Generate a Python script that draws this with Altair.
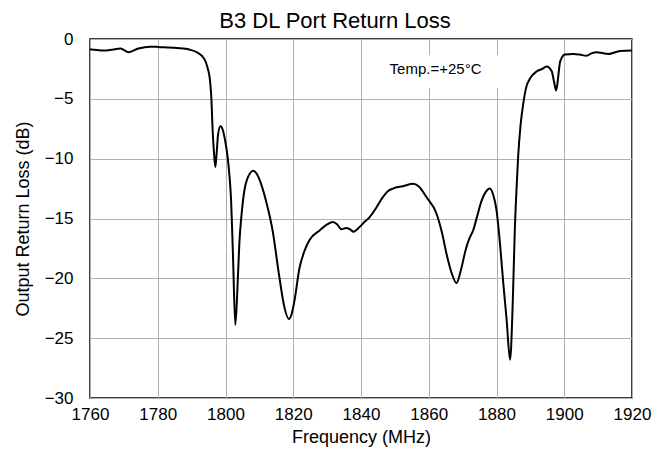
import altair as alt
import pandas as pd

freq = [1760, 1762, 1764, 1766.5, 1769, 1771.4, 1774.3, 1777.7, 1780, 1782.6, 1785, 1787.5,
        1789.5, 1791.5, 1793, 1793.9, 1794.7, 1795.4, 1795.8, 1796.2, 1796.6, 1797.0, 1797.4,
        1797.8, 1798.5, 1799.2, 1799.9, 1800.6, 1801.2, 1801.6, 1802.2, 1802.9, 1803.5, 1804.1,
        1804.8, 1805.6, 1806.7, 1808.2, 1809.3, 1810.5, 1812.2, 1813.9, 1815.9, 1817.3, 1818.7,
        1819.5, 1820.4, 1821.8, 1823.2, 1824.8, 1827.8, 1830, 1831.7, 1833, 1834.2, 1835.6,
        1836.7, 1837.8, 1839.6, 1841, 1842.5, 1844.5, 1846.5, 1848, 1849.4, 1852.4, 1855.4,
        1857, 1859.3, 1862.3, 1864, 1865.2, 1866.8, 1868.2, 1869.5, 1871, 1872.1, 1873.1,
        1874.3, 1875.6, 1876.8, 1878.0, 1879.0, 1880.0, 1881.0, 1882.0, 1883.0, 1884.0,
        1884.8, 1885.4, 1886.0, 1886.4, 1887.1, 1887.9, 1888.8, 1889.9, 1891.9, 1893.5,
        1894.8, 1896.3, 1897.0, 1897.6, 1898.2, 1898.7, 1899.4, 1900.2, 1902.7, 1904.5,
        1906.6, 1908, 1909.6, 1911.5, 1913.0, 1916.5, 1920]
loss = [-0.86, -0.92, -0.97, -0.9, -0.8, -1.1, -0.8, -0.64, -0.66, -0.7, -0.74, -0.8,
        -0.9, -1.1, -1.4, -1.75, -2.4, -3.4, -4.8, -7.6, -9.5, -10.7, -9.5,
        -8.0, -7.3, -7.6, -8.5, -9.8, -11.5, -13.2, -18, -23.9, -21, -17.0,
        -14.5, -12.6, -11.5, -11.0, -11.3, -12.1, -13.8, -16.0, -19.9, -22.3, -23.4,
        -23.0, -21.8, -19.2, -17.8, -16.8, -16.0, -15.5, -15.3, -15.5, -15.9, -15.8,
        -15.9, -16.1, -15.7, -15.3, -14.9, -14.1, -13.2, -12.7, -12.5, -12.3, -12.1,
        -12.3, -13.2, -14.6, -16.3, -17.9, -19.6, -20.4, -19.3, -17.5, -16.6, -16.0,
        -14.8, -13.5, -12.8, -12.5, -13.0, -14.3, -17, -20.4, -23.5, -26.8,
        -22, -16.0, -12, -9.8, -7.2, -5.4, -4.0, -3.3, -2.7, -2.5,
        -2.3, -2.7, -3.6, -4.3, -3.2, -2.0, -1.5, -1.3, -1.25, -1.3,
        -1.4, -1.2, -1.1, -1.2, -1.25, -1.0, -0.97]

x_ticks = [1760, 1780, 1800, 1820, 1840, 1860, 1880, 1900, 1920]
y_ticks = [0, -5, -10, -15, -20, -25, -30]

note_text = ["Temp.=+25°C"]
note_x = [1862.0]
note_y = [-2.5]
note_box_x = [1843.5]
note_box_x2 = [1881.5]
note_box_y = [-1.35]
note_box_y2 = [-4.1]

df = pd.DataFrame({"f": freq, "rl": loss})
note = pd.DataFrame({"t": note_text, "x": note_x, "y": note_y,
                     "bx": note_box_x, "bx2": note_box_x2, "by": note_box_y, "by2": note_box_y2})

FONT = "Liberation Sans"

xscale = alt.Scale(domain=[1760, 1920], nice=False, zero=False)
yscale = alt.Scale(domain=[-30, 0], nice=False, zero=False)

line = alt.Chart(df).mark_line(color="black", strokeWidth=2, interpolate="monotone").encode(
    x=alt.X("f:Q", scale=xscale,
            axis=alt.Axis(values=x_ticks, title="Frequency (MHz)", grid=True, domain=False,
                          ticks=False, labelPadding=8, titlePadding=6, format="d",
                          labelFlush=False, labelOverlap=False)),
    y=alt.Y("rl:Q", scale=yscale,
            axis=alt.Axis(values=y_ticks, title="Output Return Loss (dB)", grid=True,
                          domain=False, ticks=False, labelPadding=17, titlePadding=12,
                          labelFlush=False, labelOverlap=False)),
)

box = alt.Chart(note).mark_rect(color="white").encode(
    x="bx:Q", x2="bx2:Q", y="by:Q", y2="by2:Q")

label = alt.Chart(note).mark_text(font=FONT, fontSize=15, color="black").encode(
    x="x:Q", y="y:Q", text="t:N")

chart = alt.layer(box, line, label).properties(
    width=542, height=359,
    autosize=alt.AutoSizeParams(type="none"),
    padding={"left": 82, "top": 31, "right": 20, "bottom": 60},
    title=alt.TitleParams("B3 DL Port Return Loss", font=FONT, fontSize=22, fontWeight="normal",
                          color="black", anchor="middle", frame="group", dx=-26, dy=4, offset=1),
).configure_view(stroke="black", strokeWidth=1.5).configure_axis(
    labelFont=FONT, titleFont=FONT, labelFontSize=17, titleFontSize=18,
    labelColor="black", titleColor="black", titleFontWeight="normal",
    gridColor="#b0b0b0", gridWidth=1, gridOpacity=1,
)

chart.save("out.html", embed_options={"renderer": "svg", "actions": False})
